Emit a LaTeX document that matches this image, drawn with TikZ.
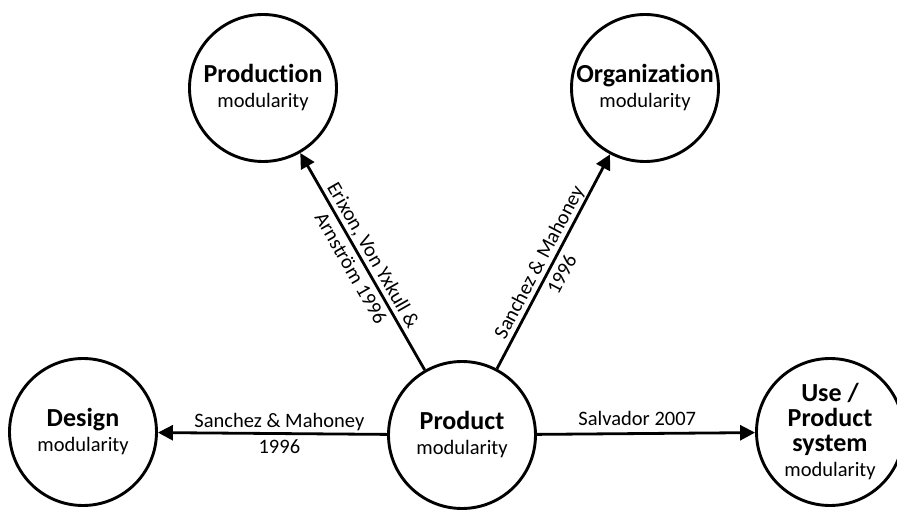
\documentclass[tikz,border=0pt]{standalone}
\usepackage{fontspec}
\setmainfont{Carlito}[Ligatures=NoCommon]
\usetikzlibrary{arrows.meta}

\tikzset{
  modcircle/.style={circle, draw, line width=2.9pt, minimum size=147pt,
    inner sep=0pt, align=center, font=\fontsize{20.5}{25}\selectfont},
  link/.style={line width=2.8pt, -{Triangle[length=15pt,width=15pt]}},
  cite/.style={align=center, font=\fontsize{20.5}{26}\selectfont},
}
\newcommand{\heading}[1]{{\bfseries\fontsize{26}{28}\selectfont #1}}

\begin{document}
\begin{tikzpicture}[x=1pt,y=1pt]
  \useasboundingbox (0,0) rectangle (897,509);

  % modularity types
  \node[modcircle] (production) at (263,421) {\heading{Production}\\modularity};
  \node[modcircle] (organization) at (645,421) {\heading{Organization}\\modularity};
  \node[modcircle] (design) at (83,77) {\heading{Design}\\modularity};
  \node[modcircle] (product) at (462,74) {\heading{Product}\\modularity};
  \node[modcircle] (use) at (830,77) {\heading{Use /}\\\heading{Product}\\\heading{system}\\modularity};

  % links from product modularity, labelled with the sources
  \draw[link] (product) -- node[cite, midway, sloped] {Erixon, Von Yxkull \&\\Arnström 1996} (production);
  \draw[link] (product) -- node[cite, pos=0.47, sloped] {Sanchez \& Mahoney\\1996} (organization);
  \draw[link] (product) -- node[cite, pos=0.47] {Sanchez \& Mahoney\\1996} (design);
  \draw[link] (product) -- node[cite, pos=0.46, anchor=base, yshift=8pt] {Salvador 2007} (use);
\end{tikzpicture}
\end{document}
